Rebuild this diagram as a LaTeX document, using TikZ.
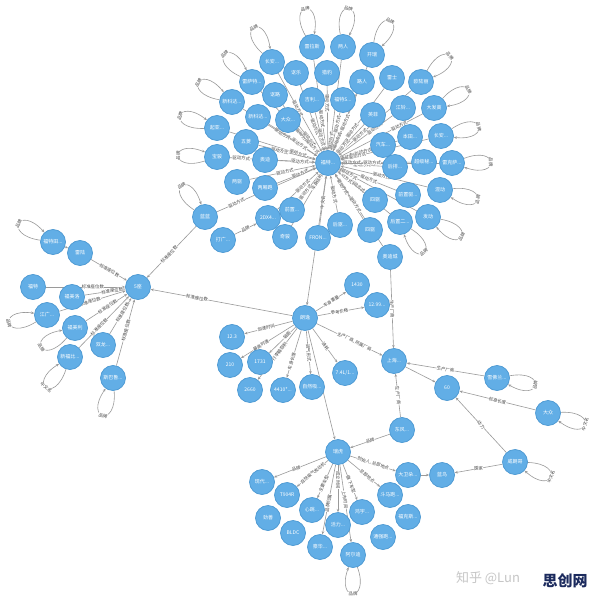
\documentclass[tikz,border=0pt]{standalone}
\usepackage{fontspec}
\newfontfamily\cjk{Noto Sans CJK SC}
\usetikzlibrary{arrows.meta}
\definecolor{nodeblue}{HTML}{62AEE6}
\definecolor{nodeedge}{HTML}{4B98D2}
\definecolor{edgegray}{HTML}{9A9A9A}
\definecolor{labelgray}{HTML}{454545}
\definecolor{navyc}{HTML}{1C2B5E}
\pgfdeclarelayer{bg}
\pgfdeclarelayer{paper}
\pgfsetlayers{paper,bg,main}
\tikzset{
  nd/.style={circle,fill=nodeblue,draw=nodeedge,line width=0.7pt,minimum size=25pt,inner sep=0pt,text=white,font=\cjk\fontsize{5}{6}\selectfont},
  ed/.style={draw=edgegray,line width=0.6pt,-{Stealth[length=3.2pt,width=2.6pt]}},
  el/.style={font=\cjk\fontsize{4.4}{5}\selectfont,text=labelgray,fill=white,inner sep=0.3pt,sloped},
}
% self loop: node, direction, label
\newcommand\lp[3]{%
  \pgfmathtruncatemacro\loopout{mod(#2+20+720,360)}%
  \pgfmathtruncatemacro\loopin{mod(#2-20+720,360)}%
  \draw[ed] (#1) to[out=\loopout,in=\loopin,distance=38pt] node[el]{#3} (#1);}
% edge into a hub: from, hub, centre distance L, label distance d from hub, label
\newcommand\ein[5]{%
  \pgfmathsetmacro\ep{(#3-12.5-#4)/(#3-25)}%
  \draw[ed] (#1) -- node[el,pos=\ep]{#5} (#2);}
% edge out of a hub: hub, to, centre distance L, label distance d from hub, label
\newcommand\eout[5]{%
  \pgfmathsetmacro\ep{(#4-12.5)/(#3-25)}%
  \draw[ed] (#1) -- node[el,pos=\ep]{#5} (#2);}
\begin{document}
\begin{tikzpicture}[x=1pt,y=1pt]
\useasboundingbox (0,0) rectangle (596,-601);
\begin{pgfonlayer}{paper}
\fill[white] (0,0) rectangle (596,-601);
\end{pgfonlayer}
% ---------- top cluster ----------
\node[nd] (T) at (328,-163) {福特...};
\node[nd] (t1) at (312,-47) {雷拉斯};
\node[nd] (t2) at (343,-47) {两人};
\node[nd] (t3) at (372,-55) {开瑞};
\node[nd] (t4) at (272,-62) {长安...};
\node[nd] (t5) at (296,-73) {讴乐};
\node[nd] (t6) at (327,-73) {猎豹};
\node[nd] (t7) at (252,-82) {雷萨特...};
\node[nd] (t8) at (362,-82) {路人};
\node[nd] (t9) at (392,-78) {雷士};
\node[nd] (t10) at (421,-82) {欧陆丽};
\node[nd] (t11) at (275,-95) {讴路};
\node[nd] (t12) at (312,-100) {吉利...};
\node[nd] (t13) at (343,-100) {福特S...};
\node[nd] (t14) at (232,-102) {新科达...};
\node[nd] (t15) at (258,-117) {新科达...};
\node[nd] (t16) at (288,-120) {大众...};
\node[nd] (t17) at (373,-115) {英菲};
\node[nd] (t18) at (403,-108) {江铃...};
\node[nd] (t19) at (434,-108) {大发高};
\node[nd] (t20) at (217,-128) {起亚...};
\node[nd] (t21) at (246,-142) {五菱};
\node[nd] (t22) at (217,-157) {宝骏};
\node[nd] (t23) at (265,-160) {奥迪};
\node[nd] (t24) at (383,-145) {汽车...};
\node[nd] (t25) at (410,-137) {本田...};
\node[nd] (t26) at (441,-136) {长安...};
\node[nd] (t27) at (395,-167) {后排...};
\node[nd] (t28) at (424,-162) {超级秘...};
\node[nd] (t29) at (452,-163) {雷克萨...};
\node[nd] (t30) at (237,-182) {两驱};
\node[nd] (t31) at (265,-188) {两厢跑};
\node[nd] (t32) at (375,-200) {四驱};
\node[nd] (t33) at (408,-195) {前置驱...};
\node[nd] (t34) at (440,-190) {混动};
\node[nd] (t35) at (292,-210) {前置...};
\node[nd] (t36) at (268,-218) {2DX4...};
\node[nd] (t37) at (285,-237) {奇骏};
\node[nd] (t38) at (318,-238) {FRON...};
\node[nd] (t39) at (340,-225) {后驱...};
\node[nd] (t40) at (370,-230) {四驱};
\node[nd] (t41) at (400,-222) {后置二...};
\node[nd] (t42) at (428,-217) {发动};
\node[nd] (t43) at (390,-257) {奥迪城};
\node[nd] (t44) at (205,-217) {蓝蓝};
\node[nd] (t45) at (223,-240) {打广...};
% ---------- left cluster ----------
\node[nd] (F) at (138,-287) {5座};
\node[nd] (l1) at (53,-242) {福特田...};
\node[nd] (l2) at (80,-253) {雷陆};
\node[nd] (l3) at (33,-287) {福特};
\node[nd] (l4) at (72,-297) {福美洛};
\node[nd] (l5) at (47,-315) {江广...};
\node[nd] (l6) at (75,-328) {福美利};
\node[nd] (l7) at (103,-345) {双龙...};
\node[nd] (l8) at (70,-357) {新福比...};
\node[nd] (l9) at (113,-378) {斯巴鲁...};
% ---------- middle cluster ----------
\node[nd] (M) at (305,-318) {朗逸};
\node[nd] (m1) at (357,-285) {1430};
\node[nd] (m2) at (377,-305) {12.99...};
\node[nd] (m3) at (232,-337) {12.3};
\node[nd] (m4) at (230,-365) {210};
\node[nd] (m5) at (260,-362) {1731};
\node[nd] (m6) at (250,-390) {2660};
\node[nd] (m7) at (283,-390) {4410*...};
\node[nd] (m8) at (312,-387) {自然吸...};
\node[nd] (m9) at (345,-373) {7.4L/1...};
% ---------- right ----------
\node[nd] (S) at (394,-361) {上海...};
\node[nd] (r1) at (447,-388) {60};
\node[nd] (r2) at (497,-378) {雪佛兰...};
\node[nd] (r3) at (548,-413) {大众};
\node[nd] (r4) at (402,-430) {东风...};
\node[nd] (r5) at (515,-462) {威朗哥};
\node[nd] (r6) at (442,-475) {蓝鸟};
\node[nd] (r7) at (408,-475) {大卫朵...};
% ---------- bottom cluster ----------
\node[nd] (B) at (338,-452) {瑞虎};
\node[nd] (b1) at (262,-482) {现代...};
\node[nd] (b2) at (287,-495) {T904R};
\node[nd] (b3) at (268,-518) {劲善};
\node[nd] (b4) at (312,-510) {心跳...};
\node[nd] (b5) at (293,-533) {BLDC};
\node[nd] (b6) at (320,-547) {豪华...};
\node[nd] (b7) at (338,-525) {活力...};
\node[nd] (b8) at (353,-555) {阿尔迪};
\node[nd] (b9) at (362,-512) {鸿宇...};
\node[nd] (b10) at (390,-495) {斗马跑...};
\node[nd] (b11) at (383,-537) {通强跑...};
\node[nd] (b12) at (408,-517) {福克斯...};
% watermark
\node[font=\cjk\fontsize{13}{14}\selectfont,text=gray!45] (wm) at (488,-578) {知乎 @Lun};
\node[font=\cjk\bfseries\fontsize{15}{16}\selectfont,text=navyc] (logo) at (565,-581) {思创网};
% ---------- edges ----------
\begin{pgfonlayer}{bg}
\foreach \a/\L/\d/\l in {t1/117/44/驱动方式,t2/117/22/驱动方式,t3/117/24/驱动方式,t4/115/62/驱动方式,
  t5/95.5/38/驱动方式,t6/90/60/驱动方式,t7/111/37/驱动方式,t8/88/44/驱动方式,t9/106/40/驱动方式,
  t10/123/42/驱动方式,t11/86/30/驱动方式,t12/65/26/驱动方式,t13/65/40/驱动方式,t14/114/54/驱动方式,
  t15/84/34/驱动方式,t16/59/22/驱动方式,t17/66/22/驱动方式,t18/93/58/驱动方式,t19/119/80/驱动方式,
  t20/116/31/驱动方式,t21/85/50/驱动方式,t22/111/87/驱动方式,t23/63/28/驱动方式,t24/58/22/驱动方式,
  t25/86/37/驱动方式,t26/116/30/驱动方式,t27/67/34/驱动方式,t28/96/24/驱动方式,t29/124/44/驱动方式,
  t30/93/44/驱动方式,t31/68/30/驱动方式,t32/60/38/驱动方式,t33/86/44/驱动方式,t34/115/55/驱动方式,
  t35/59/37/驱动方式,t36/81/34/驱动方式,t37/86/22/车身结构,t38/76/40/中文名,t39/63/32/驱动方式,
  t40/79/28/驱动方式,t41/93/22/驱动方式,t42/114/24/驱动方式,t43/113/50/驱动方式,t44/134/100/驱动方式}
  {\ein{\a}{T}{\L}{\d}{\l}}
\foreach \n/\a in {t1/100,t2/82,t3/62,t4/118,t7/135,t14/150,t20/162,t22/178,t44/127,
  t10/42,t19/28,t26/14,t29/1,t34/-14,t42/-30,t41/-52}
  {\lp{\n}{\a}{品牌}}
\draw[ed] (t45) -- node[el]{品牌} (t36);
\ein{t44}{F}{97}{45}{标准座位数}
\draw[ed] (T) -- (M);
% left
\draw[ed] (l1) -- (l2);
\foreach \a/\L/\d in {l2/67/33,l3/105/45,l4/67/26,l5/95/50,l6/75/36,l7/68/30,l8/98/56,l9/94/45}
  {\ein{\a}{F}{\L}{\d}{标准座位数}}
\lp{l1}{152}{品牌}
\lp{l5}{192}{品牌}
\lp{l6}{210}{品牌}
\lp{l8}{232}{中文名}
\lp{l9}{255}{品牌}
% middle
\eout{M}{F}{170}{110}{标准座位数}
\eout{M}{m1}{61.6}{31}{车身重量}
\eout{M}{m2}{73}{35}{参考价格}
\eout{M}{m3}{75}{40}{加速时间}
\eout{M}{m4}{88.5}{52}{最高时速}
\eout{M}{m5}{63}{25}{轴距}
\eout{M}{m6}{90.6}{42}{行李箱容积}
\eout{M}{m7}{75}{45}{车身长度}
\eout{M}{m8}{69}{35}{进气形式}
\eout{M}{m9}{68}{35}{油耗}
\eout{M}{S}{99}{55}{生产厂商, 所属厂商}
\draw[ed] (M) -- (B);
% right
\draw[ed] (t43) -- node[el]{生产厂商} (S);
\draw[ed] (r2) -- node[el]{生产厂商} (S);
\draw[ed] (S) -- (r1);
\draw[ed] (r3) -- node[el]{标准长度} (r1);
\draw[ed] (r5) -- node[el]{动力} (r1);
\draw[ed] (r5) -- node[el]{国家} (r6);
\draw[ed] (r4) -- node[el]{生产厂商} (S);
\draw[ed] (r7) -- (r6);
\lp{r2}{-10}{品牌}
\lp{r3}{-17}{中文名}
\lp{r5}{-22}{中文名}
% bottom
\ein{r4}{B}{67.7}{34}{品牌}
\eout{B}{b1}{81.7}{45}{品牌}
\eout{B}{b2}{66.7}{33}{自然吸气发动机}
\eout{B}{b4}{63.6}{35}{主要车型}
\eout{B}{b6}{96.7}{52}{品牌归属}
\eout{B}{b7}{73}{28}{成立时间}
\eout{B}{b8}{104}{48}{上市时间}
\eout{B}{b9}{64.6}{35}{旗下车型}
\eout{B}{b10}{67.5}{38}{总部地点}
\eout{B}{r7}{73.7}{37}{创始人, 总部地点}
\lp{b8}{270}{品牌}
\end{pgfonlayer}
\end{tikzpicture}
\end{document}
